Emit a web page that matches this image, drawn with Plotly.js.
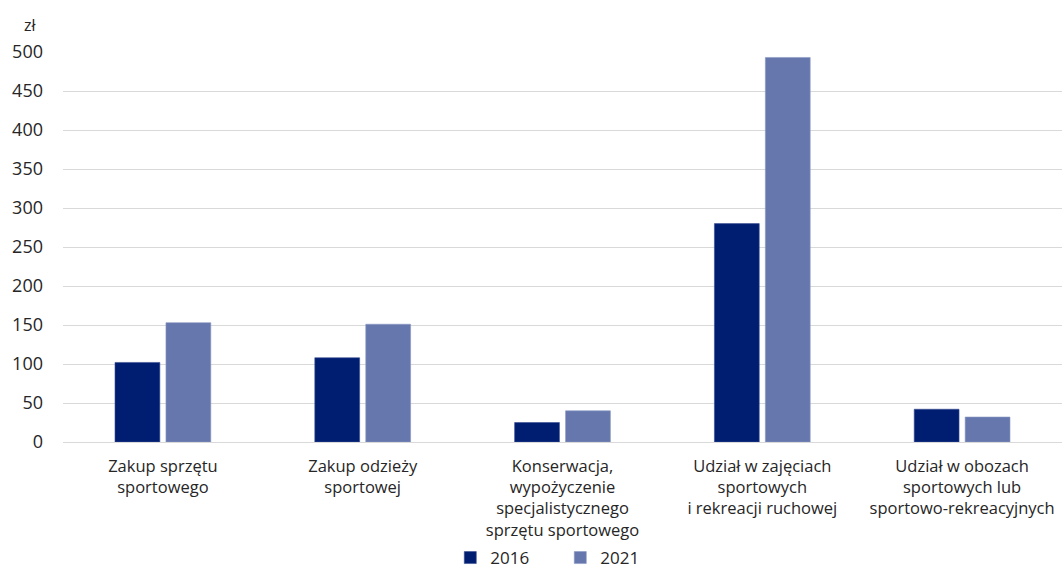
<!DOCTYPE html>
<html><head><meta charset="utf-8">
<script src="https://cdn.plot.ly/plotly-3.0.1.min.js"></script>
<style>html,body{margin:0;padding:0;background:#fff}#chart{width:1062px;height:576px}</style>
</head><body><div id="chart"></div>
<script>
const categories = [
  "Zakup sprzętu<br>sportowego",
  "Zakup odzieży<br>sportowej",
  "Konserwacja,<br>wypożyczenie<br>specjalistycznego<br>sprzętu sportowego",
  "Udział w zajęciach<br>sportowych<br>i rekreacji ruchowej",
  "Udział w obozach<br>sportowych lub<br>sportowo-rekreacyjnych"
];
const values2016 = [102, 108, 25, 280, 42];
const values2021 = [153, 151, 40, 493, 32];
const seriesNames = ["2016", "2021"];
const yTicks = [0, 50, 100, 150, 200, 250, 300, 350, 400, 450, 500];

const font = "Open Sans, Noto Sans, sans-serif";
const traces = [
  {type: "bar", name: seriesNames[0], x: categories, y: values2016,
   marker: {color: "#001E71", line: {color: "#3a4f92", width: 0.6}}},
  {type: "bar", name: seriesNames[1], x: categories, y: values2021,
   marker: {color: "#6677AD", line: {color: "#8a98c4", width: 0.6}}}
];
const layout = {
  width: 1062, height: 576,
  margin: {l: 63, r: 0, t: 52, b: 134},
  paper_bgcolor: "#fff", plot_bgcolor: "#fff",
  font: {family: font, size: 16, color: "#262626"},
  barmode: "group", bargap: 0.49, bargroupgap: 0.12,
  showlegend: true,
  legend: {orientation: "h", x: 0.424, xanchor: "left", xref: "container",
           y: -0.02, yanchor: "bottom", yref: "container",
           font: {size: 17, color: "#262626"}, traceorder: "normal", itemwidth: 30,
           entrywidth: 65, tracegroupgap: 0},
  xaxis: {showgrid: false, showline: false, ticks: "", tickfont: {size: 16.5},
          ticklabelstandoff: 12, fixedrange: true, automargin: false},
  yaxis: {range: [0, 500], tickvals: yTicks, ticktext: yTicks.map(String),
          showgrid: true, gridcolor: "#d9d9d9", gridwidth: 1,
          zeroline: true, zerolinecolor: "#d9d9d9", zerolinewidth: 1,
          showline: false, ticks: "", tickfont: {size: 18}, ticklabelstandoff: 19,
          automargin: false},
  annotations: [{text: "zł", xref: "paper", yref: "paper", x: -0.024, y: 1.07,
                 xanchor: "right", yanchor: "middle", showarrow: false, font: {size: 16, color: "#262626"}}]
};
Plotly.newPlot("chart", traces, layout, {displayModeBar: false, staticPlot: true});
</script></body></html>
